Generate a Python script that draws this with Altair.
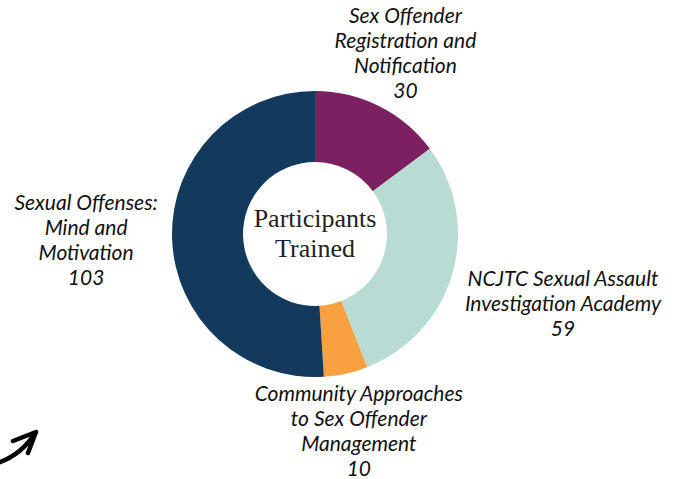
import altair as alt
import pandas as pd

# --- data ---
programs = [
    "Sex Offender\nRegistration and\nNotification",
    "NCJTC Sexual Assault\nInvestigation Academy",
    "Community Approaches\nto Sex Offender\nManagement",
    "Sexual Offenses:\nMind and\nMotivation",
]
participants = [30, 59, 10, 103]
colors = ["#7b2060", "#b8dbd3", "#f9a041", "#133a5c"]

# --- styling (not data) ---
label_radius = [201, 258, 203, 229]
CX, CY = 315, 234
R_OUT, R_IN = 143, 72
LH = 25

labels_txt = [f"{p}\n{v}" for p, v in zip(programs, participants)]
df = pd.DataFrame({
    "program": programs,
    "participants": participants,
    "order": list(range(len(programs))),
    "label": labels_txt,
    "nl": [t.count("\n") + 1 for t in labels_txt],
    "lr": label_radius,
})

arcs = alt.Chart(df).mark_arc(innerRadius=R_IN, outerRadius=R_OUT, stroke=None).encode(
    theta=alt.Theta("participants:Q", stack=True),
    order=alt.Order("order:Q"),
    color=alt.Color("program:N", scale=alt.Scale(domain=programs, range=colors), legend=None),
    x=alt.value(CX),
    y=alt.value(CY),
)

labels = alt.Chart(df).transform_window(
    cum="sum(participants)", sort=[alt.SortField("order")], frame=[None, 0]
).transform_joinaggregate(
    total="sum(participants)"
).transform_calculate(
    mid="(datum.cum - datum.participants / 2) / datum.total * 2 * PI",
).transform_calculate(
    px=f"{CX} + datum.lr * sin(datum.mid)",
    py=f"{CY} - datum.lr * cos(datum.mid) - (datum.nl - 1) * {LH} / 2",
).mark_text(
    font="Lato", fontStyle="italic", fontSize=21, lineBreak="\n", lineHeight=LH,
    color="#111111", align="center", baseline="middle",
).encode(
    text="label:N",
    x=alt.X("px:Q", scale=None, axis=None),
    y=alt.Y("py:Q", scale=None, axis=None),
)

center = alt.Chart(pd.DataFrame({"t": ["Participants\nTrained"]})).mark_text(
    font="Liberation Serif", fontSize=26, lineBreak="\n", lineHeight=30,
    color="#222222", align="center", baseline="middle", dy=-15,
).encode(text="t:N", x=alt.value(CX), y=alt.value(CY))

arrow_path = "M -1.2 0.85 Q 0.1 0.5 0.9 -0.75 M -0.25 -0.3 L 0.9 -0.75 L 0.5 0.3"
arrow = alt.Chart(pd.DataFrame({"a": [0]})).mark_point(
    shape=arrow_path, size=1600, filled=False, stroke="#000000",
    strokeWidth=4.5, strokeCap="round", strokeJoin="round", opacity=1,
).encode(x=alt.value(18), y=alt.value(447))

chart = alt.layer(arcs, labels, center, arrow).properties(
    width=677, height=479, padding=0,
    autosize=alt.AutoSizeParams(type="none"),
).configure_view(stroke=None)

chart.save("out.html", embed_options={"renderer": "svg", "actions": False})
